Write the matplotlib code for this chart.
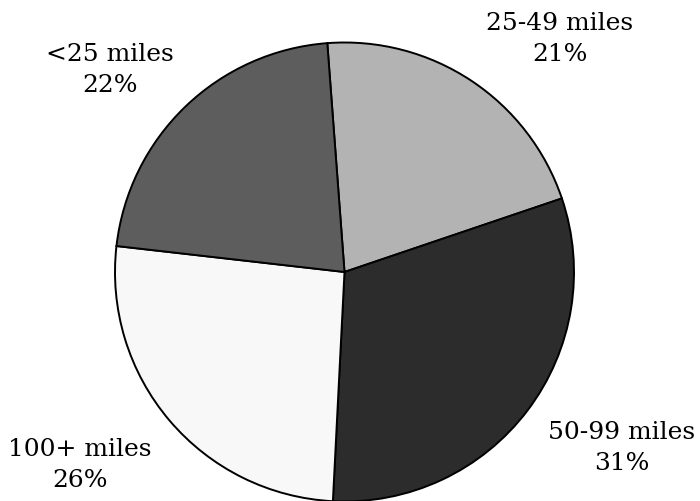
import matplotlib.pyplot as plt

labels = ["25-49 miles", "50-99 miles", "100+ miles", "<25 miles"]
shares = [21, 31, 26, 22]
colors = ["#b3b3b3", "#2c2c2c", "#f8f8f8", "#5d5d5d"]

# label positions in pixel coords (x, y from top)
label_pos = [(560, 39), (622, 448), (80, 465), (110, 70)]

fig = plt.figure(figsize=(7, 5.02), dpi=100)
ax = fig.add_axes([0, 0, 1, 1])
ax.set_xlim(0, 700)
ax.set_ylim(0, 502)
ax.set_aspect("equal")
ax.axis("off")

ax.pie(shares, colors=colors, startangle=94.3, counterclock=False,
       center=(344.5, 502 - 273), radius=229.5,
       wedgeprops=dict(edgecolor="black", linewidth=1.4))
ax.set_xlim(0, 700)
ax.set_ylim(0, 502)

for lab, val, (x, y) in zip(labels, shares, label_pos):
    ax.text(x, 502 - y, f"{lab}\n{val}%", ha="center", va="center",
            fontsize=18, family="DejaVu Serif", linespacing=1.42)

fig.savefig("out.png", dpi=100)
